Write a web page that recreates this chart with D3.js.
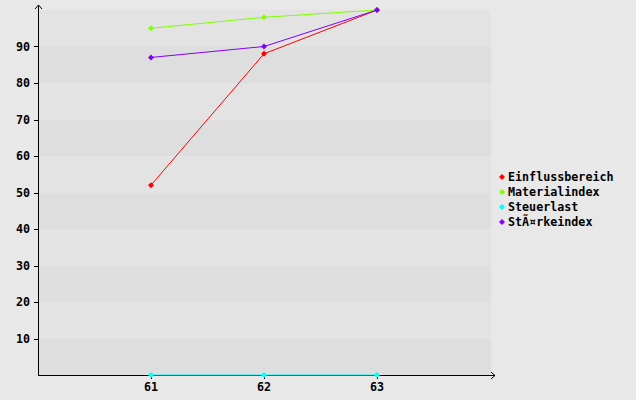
<!DOCTYPE html>
<html><head><meta charset="utf-8">
<script src="https://cdn.jsdelivr.net/npm/d3@7"></script>
<style>body{margin:0;background:#e8e8e8}svg{display:block}text{font-family:"DejaVu Sans Mono",monospace;font-weight:bold;font-size:11.7px;fill:#000}</style>
</head><body>
<script>
const categories = [61, 62, 63];
const yTicks = [10, 20, 30, 40, 50, 60, 70, 80, 90];
const seriesNames = ["Einflussbereich", "Materialindex", "Steuerlast", "StÃ¤rkeindex"];
const seriesColors = ["#ff0000", "#80ff00", "#00ffff", "#8000ff"];
const einfluss = [52, 88, 100];
const material = [95, 98, 100];
const steuer = [0, 0, 0];
const staerke = [87, 90, 100];
const seriesValues = [einfluss, material, steuer, staerke];

const W = 636, H = 400;
const svg = d3.select("body").append("svg").attr("width", W).attr("height", H);
svg.append("rect").attr("width", W).attr("height", H).attr("fill", "#e8e8e8");
const x = d3.scaleLinear().domain([60, 64]).range([38, 490]);
const y = d3.scaleLinear().domain([0, 100]).range([375, 10]);

// bands
const bands = d3.range(0, 100, 10);
svg.selectAll("rect.band").data(bands).enter().append("rect")
  .attr("x", 38).attr("width", 453)
  .attr("y", d => y(d + 10)).attr("height", d => y(d) - y(d + 10))
  .attr("fill", d => (d / 10) % 2 === 0 ? "#dedede" : "#e3e3e3");

// axes
const g = svg.append("g").attr("shape-rendering", "crispEdges");
g.append("line").attr("x1", 38.5).attr("x2", 38.5).attr("y1", 5).attr("y2", 375.5).attr("stroke", "#000");
g.append("line").attr("x1", 38).attr("x2", 495).attr("y1", 375.5).attr("y2", 375.5).attr("stroke", "#000");
svg.append("path").attr("d", "M35,9 L38.5,5 L42,9").attr("fill", "none").attr("stroke", "#000");
svg.append("path").attr("d", "M491,372 L495,375.5 L491,379").attr("fill", "none").attr("stroke", "#000");

g.selectAll("line.yt").data(yTicks).enter().append("line")
  .attr("x1", 34).attr("x2", 38).attr("y1", d => Math.round(y(d)) + 0.5).attr("y2", d => Math.round(y(d)) + 0.5).attr("stroke", "#000");
svg.selectAll("text.yl").data(yTicks).enter().append("text")
  .attr("x", 30).attr("y", d => y(d) + 4).attr("text-anchor", "end").text(d => d);
g.selectAll("line.xt").data(categories).enter().append("line")
  .attr("x1", d => Math.round(x(d)) + 0.5).attr("x2", d => Math.round(x(d)) + 0.5).attr("y1", 375).attr("y2", 379).attr("stroke", "#000");
svg.selectAll("text.xl").data(categories).enter().append("text")
  .attr("x", d => x(d)).attr("y", 391).attr("text-anchor", "middle").text(d => d);

const line = d3.line().x((d, i) => x(categories[i])).y(d => y(d));
const marker = (sel, cx, cy, c) => sel.append("path")
  .attr("d", `M${cx - 3},${cy} L${cx},${cy - 3} L${cx + 3},${cy} L${cx},${cy + 3} Z`)
  .attr("fill", c);
seriesValues.forEach((vals, si) => {
  svg.append("path").attr("d", line(vals)).attr("fill", "none").attr("stroke", seriesColors[si]).attr("stroke-width", 1);
  vals.forEach((v, i) => marker(svg, x(categories[i]), y(v), seriesColors[si]));
});

// legend
seriesNames.forEach((n, i) => {
  const ly = 177 + i * 15;
  marker(svg, 502, ly, seriesColors[i]);
  svg.append("text").attr("x", 508).attr("y", ly + 4).text(n);
});
</script>
</body></html>
